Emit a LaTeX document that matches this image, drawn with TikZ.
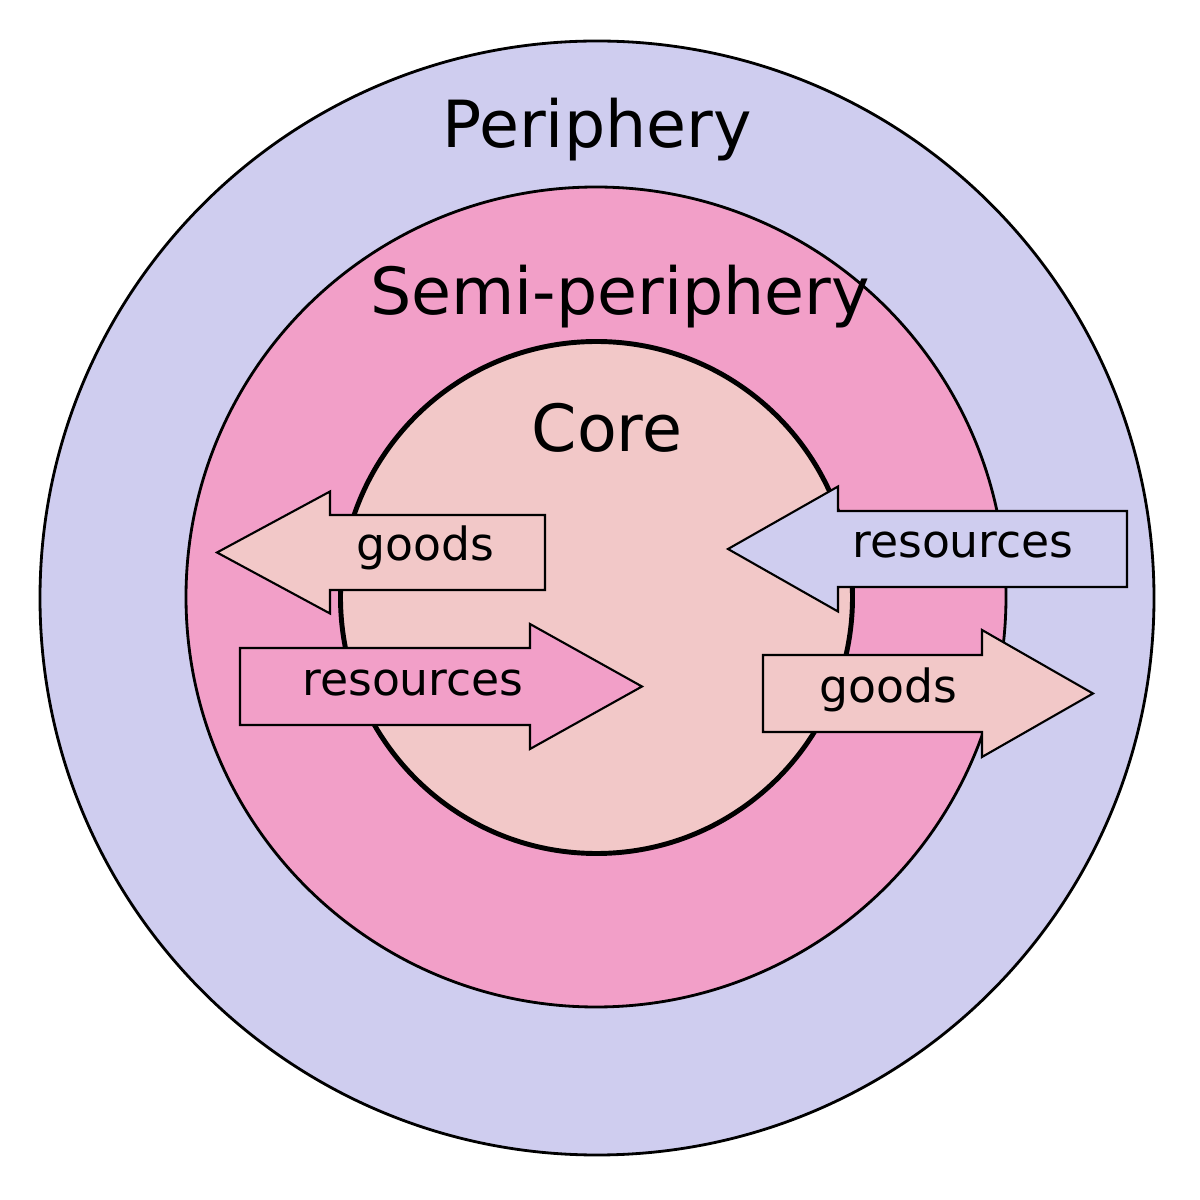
\documentclass[tikz,border=0pt]{standalone}
\usepackage{fontspec}
\setmainfont{DejaVu Sans}
\usetikzlibrary{positioning}
\definecolor{periph}{HTML}{CFCDEF}
\definecolor{semi}{HTML}{F29FC8}
\definecolor{core}{HTML}{F2C8C8}
\tikzset{
  ring/.style={draw=black,line width=0.8pt},
  arrowbox/.style={draw=black,line width=0.6pt},
  ringlabel/.style={font=\fontsize{18.5}{20}\selectfont},
  arrowlabel/.style={font=\fontsize{13}{15}\selectfont}
}
% left/right pointing block arrow: tip x, tail x, head base x, centre y, shaft half, head half
\newcommand{\blockarrow}[7]{%
  \fill[#7,arrowbox] (#2,#4-#5) -- (#3,#4-#5) -- (#3,#4-#6) -- (#1,#4)
    -- (#3,#4+#6) -- (#3,#4+#5) -- (#2,#4+#5) -- cycle;}
\begin{document}
\begin{tikzpicture}
  \useasboundingbox (0,0) rectangle (12,12);
  % rings
  \fill[periph,ring] (5.97,6.02) circle (5.57);
  \fill[semi,ring] (5.96,6.03) circle (4.10);
  \fill[core,ring,line width=1.4pt] (5.965,6.025) circle (2.56);
  \node[ringlabel] (periphery) at (5.97,10.70) {Periphery};
  \node[ringlabel] (semiperiphery) at (6.20,9.03) {Semi-periphery};
  \node[ringlabel] (corelabel) at (6.07,7.72) {Core};
  % flows
  \blockarrow{2.17}{5.45}{3.30}{6.475}{0.375}{0.61}{core}
  \blockarrow{6.42}{2.40}{5.30}{5.135}{0.385}{0.625}{semi}
  \blockarrow{7.28}{11.27}{8.38}{6.51}{0.38}{0.625}{periph}
  \blockarrow{10.93}{7.63}{9.82}{5.065}{0.385}{0.635}{core}
  \node[arrowlabel] (goodsin) at (4.25,6.52) {goods};
  \node[arrowlabel] (resout) at (4.13,5.17) {resources};
  \node[arrowlabel] (resin) at (9.63,6.55) {resources};
  \node[arrowlabel] (goodsout) at (8.88,5.10) {goods};
\end{tikzpicture}
\end{document}
